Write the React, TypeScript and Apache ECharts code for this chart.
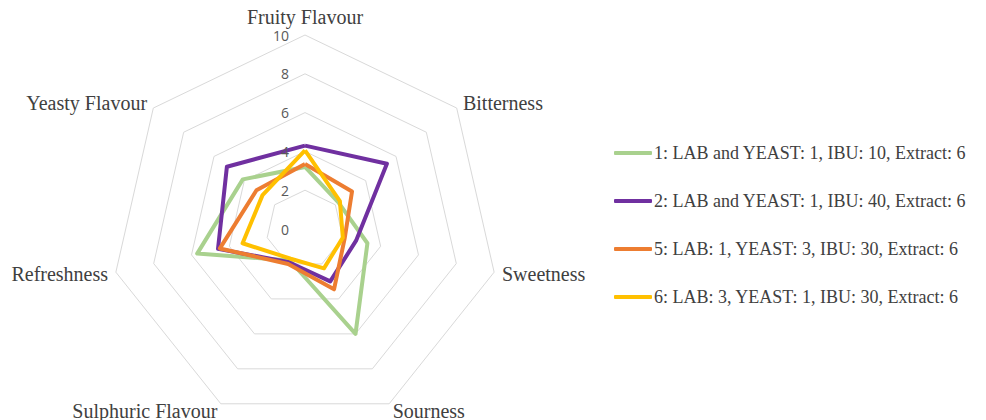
import React, { useEffect, useRef } from "react";
import * as echarts from "echarts";

const indicators = [
  "Fruity Flavour",
  "Bitterness",
  "Sweetness",
  "Sourness",
  "Sulphuric Flavour",
  "Refreshness",
  "Yeasty Flavour",
];
const tickLabels = [0, 2, 4, 6, 8, 10];
const seriesNames = [
  "1: LAB and YEAST: 1, IBU: 10, Extract: 6",
  "2: LAB and YEAST: 1, IBU: 40, Extract: 6",
  "5: LAB: 1, YEAST: 3, IBU: 30, Extract: 6",
  "6: LAB: 3, YEAST: 1, IBU: 30, Extract: 6",
];
const s1 = [3.2, 2.2, 3.3, 6.0, 1.8, 5.7, 4.1];
const s2 = [4.3, 5.4, 2.7, 3.0, 1.9, 4.6, 5.15];
const s5 = [3.35, 3.1, 2.1, 3.45, 2.0, 4.5, 3.2];
const s6 = [4.05, 2.3, 2.0, 2.25, 1.7, 3.3, 2.8];
const colors = ["#A9D18E", "#7030A0", "#ED7D31", "#FFC000"];

// ECharts lays indicators counter-clockwise; reorder to read clockwise.
const order = [0, 6, 5, 4, 3, 2, 1];
const reorder = (arr: number[]) => order.map((i) => arr[i]);

export default function App() {
  const ref = useRef<HTMLDivElement>(null);
  useEffect(() => {
    if (!ref.current) return;
    const chart = echarts.init(ref.current, undefined, { renderer: "svg" });
    const all = [s1, s2, s5, s6];
    chart.setOption({
      animation: false,
      backgroundColor: "#ffffff",
      legend: {
        orient: "vertical",
        left: 609,
        top: 138,
        itemWidth: 38,
        itemHeight: 4,
        itemGap: 28,
        icon: "roundRect",
        data: seriesNames,
        textStyle: {
          fontFamily: "Liberation Serif",
          fontSize: 18,
          color: "#404040",
          lineHeight: 20,
          padding: [0, 0, 0, -3],
        },
      },
      radar: {
        center: [305, 229],
        radius: 194,
        shape: "polygon",
        splitNumber: 5,
        startAngle: 90,
        nameGap: 8,
        indicator: order.map((i) => ({ name: indicators[i], min: 0, max: 10 })),
        axisName: {
          fontFamily: "Liberation Serif",
          fontSize: 20,
          color: "#404040",
        },
        axisLine: { show: false },
        axisTick: { show: false },
        axisLabel: { show: false },
        splitArea: { show: false },
        splitLine: { lineStyle: { color: "#d9d9d9", width: 1 } },
      },
      polar: { center: [305, 229], radius: 194 },
      angleAxis: {
        show: false,
        startAngle: 90,
        min: 0,
        max: 360,
      },
      radiusAxis: {
        min: 0,
        max: 10,
        interval: 2,
        axisLine: { show: false },
        axisTick: { show: false },
        splitLine: { show: false },
        axisLabel: {
          show: true,
          margin: 16,
          fontFamily: "Open Sans",
          fontSize: 14,
          color: "#595959",
          formatter: (v: number) => (tickLabels.includes(v) ? String(v) : ""),
        },
        z: 10,
      },
      series: [
        {
          type: "radar",
          symbol: "none",
          data: all.map((arr, k) => ({
            name: seriesNames[k],
            value: reorder(arr),
            lineStyle: { color: colors[k], width: 4 },
            itemStyle: { color: colors[k] },
          })),
        },
      ],
    });
    return () => chart.dispose();
  }, []);
  return (
    <div
      ref={ref}
      style={{ position: "absolute", left: 0, top: 0, width: 986, height: 420 }}
    />
  );
}
